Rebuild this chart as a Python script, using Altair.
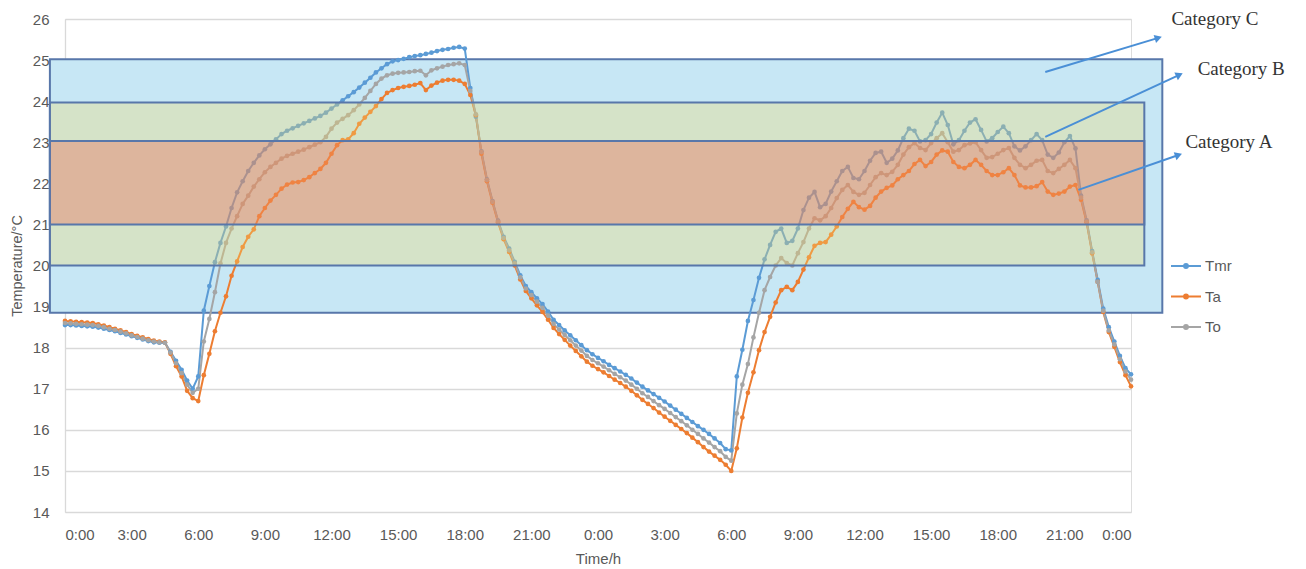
import altair as alt
import pandas as pd

# ---------------- data ----------------
series_names = ["Tmr", "Ta", "To"]
series_colors = ["#5b9bd5", "#ed7d31", "#a5a5a5"]

# 15-minute readings over two days (0 h .. 48 h)
tmr = [
    18.55, 18.55, 18.54, 18.53, 18.52, 18.51, 18.49, 18.46, 18.43, 18.40, 18.36, 18.32,
    18.28, 18.24, 18.20, 18.16, 18.13, 18.12, 18.12, 17.90, 17.68, 17.46, 17.20, 17.00,
    17.30, 18.90, 19.50, 20.08, 20.55, 20.95, 21.40, 21.78, 22.05, 22.30, 22.50, 22.68,
    22.83, 22.95, 23.07, 23.20, 23.28, 23.34, 23.40, 23.46, 23.52, 23.58, 23.64, 23.72,
    23.82, 23.92, 24.02, 24.12, 24.22, 24.33, 24.45, 24.57, 24.70, 24.80, 24.90, 24.97,
    25.00, 25.03, 25.07, 25.10, 25.12, 25.15, 25.18, 25.22, 25.25, 25.27, 25.30, 25.32,
    25.28, 24.32, 23.62, 22.78, 22.10, 21.57, 21.09, 20.70, 20.41, 20.09, 19.76, 19.50,
    19.35, 19.20, 19.06, 18.88, 18.68, 18.55, 18.42, 18.30, 18.18, 18.06, 17.94, 17.84,
    17.75, 17.67, 17.58, 17.50, 17.42, 17.34, 17.25, 17.15, 17.05, 16.96, 16.87, 16.78,
    16.69, 16.59, 16.49, 16.39, 16.29, 16.19, 16.09, 16.00, 15.90, 15.79, 15.68, 15.53,
    15.50, 17.30, 17.95, 18.65, 19.16, 19.70, 20.15, 20.50, 20.82, 20.90, 20.55, 20.60,
    20.90, 21.35, 21.65, 21.79, 21.42, 21.50, 21.80, 22.05, 22.30, 22.40, 22.13, 22.10,
    22.30, 22.55, 22.74, 22.77, 22.50, 22.60, 22.80, 23.10, 23.33, 23.28, 23.02, 23.05,
    23.20, 23.48, 23.72, 23.42, 22.95, 23.05, 23.28, 23.48, 23.56, 23.30, 23.02, 23.10,
    23.25, 23.38, 23.22, 22.90, 22.80, 22.90, 23.05, 23.20, 23.05, 22.70, 22.62, 22.75,
    23.00, 23.15, 22.85, 21.70, 21.10, 20.35, 19.65, 18.95, 18.50, 18.15, 17.80, 17.50,
    17.35,
]
ta = [
    18.65, 18.64, 18.63, 18.62, 18.61, 18.60, 18.57, 18.54, 18.50, 18.46, 18.42, 18.38,
    18.33, 18.29, 18.25, 18.21, 18.17, 18.15, 18.13, 17.85, 17.55, 17.30, 16.95, 16.77,
    16.70, 17.33, 17.85, 18.40, 18.85, 19.25, 19.75, 20.10, 20.45, 20.70, 20.88, 21.20,
    21.40, 21.58, 21.72, 21.87, 21.97, 22.02, 22.03, 22.08, 22.15, 22.25, 22.35, 22.50,
    22.72, 22.93, 23.05, 23.07, 23.22, 23.45, 23.60, 23.74, 23.88, 24.05, 24.20, 24.27,
    24.32, 24.35, 24.37, 24.40, 24.44, 24.27, 24.38, 24.45, 24.50, 24.52, 24.52, 24.50,
    24.42, 24.15, 23.66, 22.72, 22.05, 21.53, 21.05, 20.64, 20.33, 20.00, 19.66, 19.38,
    19.20, 19.03, 18.87, 18.68, 18.48, 18.33, 18.19, 18.05, 17.92, 17.79, 17.66, 17.56,
    17.48, 17.40, 17.31, 17.22, 17.14, 17.05, 16.95, 16.84, 16.73, 16.63, 16.53, 16.42,
    16.32, 16.22, 16.12, 16.02, 15.92, 15.81, 15.70, 15.58, 15.47, 15.37, 15.27, 15.15,
    15.00, 15.55, 16.30, 16.90, 17.40, 17.94, 18.38, 18.75, 19.10, 19.40, 19.48, 19.40,
    19.60, 19.90, 20.20, 20.48, 20.55, 20.57, 20.75, 20.95, 21.18, 21.38, 21.55, 21.42,
    21.36, 21.45, 21.65, 21.80, 21.89, 21.95, 22.10, 22.20, 22.30, 22.47, 22.57, 22.42,
    22.52, 22.70, 22.80, 22.77, 22.52, 22.40, 22.37, 22.45, 22.57, 22.45, 22.30, 22.20,
    22.20, 22.27, 22.37, 22.20, 21.95, 21.90, 21.90, 21.93, 22.03, 21.80, 21.72, 21.75,
    21.80, 21.92, 21.96, 21.60, 21.05, 20.30, 19.60, 18.87, 18.38, 18.02, 17.65, 17.33,
    17.06,
]
to = [
    18.60, 18.59, 18.58, 18.57, 18.56, 18.55, 18.53, 18.50, 18.46, 18.43, 18.39, 18.35,
    18.30, 18.26, 18.22, 18.18, 18.15, 18.13, 18.12, 17.88, 17.62, 17.38, 17.10, 16.90,
    17.00, 18.15, 18.70, 19.35, 20.05, 20.55, 20.90, 21.20, 21.50, 21.70, 21.92, 22.10,
    22.27, 22.40, 22.50, 22.60, 22.67, 22.72, 22.77, 22.82, 22.88, 22.94, 23.00, 23.13,
    23.33, 23.48, 23.57, 23.66, 23.78, 23.92, 24.08, 24.25, 24.42, 24.55, 24.63, 24.67,
    24.69, 24.70, 24.71, 24.73, 24.74, 24.63, 24.75, 24.80, 24.84, 24.88, 24.90, 24.92,
    24.88, 24.25, 23.68, 22.76, 22.08, 21.55, 21.07, 20.67, 20.37, 20.05, 19.71, 19.44,
    19.28, 19.12, 18.97, 18.78, 18.58, 18.44, 18.31, 18.18, 18.05, 17.93, 17.80, 17.70,
    17.62, 17.54, 17.45, 17.36, 17.28, 17.20, 17.10, 17.00, 16.89, 16.80, 16.70, 16.60,
    16.51, 16.41, 16.31, 16.21, 16.11, 16.00, 15.90, 15.79, 15.69, 15.58, 15.48, 15.34,
    15.25, 16.40, 17.10, 17.60, 18.25, 18.85, 19.40, 19.72, 20.00, 20.18, 20.06, 20.00,
    20.30, 20.57, 20.90, 21.15, 21.10, 21.20, 21.40, 21.64, 21.84, 21.96, 21.79, 21.72,
    21.77, 21.96, 22.15, 22.25, 22.20, 22.28, 22.45, 22.70, 22.88, 22.98, 22.86, 22.81,
    22.98, 23.10, 23.22, 23.00, 22.77, 22.81, 22.93, 22.97, 23.00, 22.81, 22.62, 22.64,
    22.72, 22.81, 22.86, 22.62, 22.45, 22.37, 22.45, 22.55, 22.57, 22.30, 22.25, 22.35,
    22.45, 22.57, 22.37, 21.65, 21.07, 20.32, 19.60, 18.90, 18.42, 18.08, 17.72, 17.42,
    17.22,
]
hours = [i * 0.25 for i in range(len(tmr))]

tick_hours = list(range(0, 49, 3))
y_ticks = list(range(14, 27))

# comfort category bands (hours / °C)
band_names = ["Category C", "Category B", "Category A"]
band_x1 = [-0.68, -0.68, -0.68]
band_x2 = [49.41, 48.6, 48.6]
band_y1 = [18.85, 20.0, 21.0]
band_y2 = [25.02, 23.97, 23.03]
band_fill = ["#c7e7f5", "#f3db6a", "#f05544"]

# annotation labels and arrows
ann_text = ["Category C", "Category B", "Category A"]
ann_tx = [49.82, 51.0, 50.45]
ann_ty = [25.85, 24.64, 22.86]
arr_x1 = [44.14, 44.14, 45.63]
arr_y1 = [24.71, 23.13, 21.84]
arr_x2 = [49.23, 50.18, 50.14]
arr_y2 = [25.54, 24.64, 22.69]
arr_angle = [343.5, 335.0, 340.7]

# ---------------- tables ----------------
rows = []
for name, vals in zip(series_names, [tmr, ta, to]):
    for h, v in zip(hours, vals):
        rows.append({"hour": h, "temp": v, "series": name})
df = pd.DataFrame(rows)

bands = pd.DataFrame({"name": band_names, "x1": band_x1, "x2": band_x2,
                      "y1": band_y1, "y2": band_y2, "fill": band_fill})
ann = pd.DataFrame({"label": ann_text, "tx": ann_tx, "ty": ann_ty,
                    "x1": arr_x1, "y1": arr_y1, "x2": arr_x2, "y2": arr_y2,
                    "ang": arr_angle})

FONT = "Liberation Sans"
GREY = "#595959"
BORDER = "#5877aa"

xscale = alt.Scale(domain=[0, 48], nice=False, zero=False)
yscale = alt.Scale(domain=[14, 26], nice=False, zero=False)
cscale = alt.Scale(domain=series_names, range=series_colors)

x_axis = alt.Axis(values=tick_hours, labelExpr="(datum.value % 24) + ':00'",
                  grid=False, ticks=False, domain=False, labelPadding=15,
                  labelFont=FONT, labelFontSize=15, labelColor=GREY,
                  title="Time/h", titleFont=FONT, titleFontSize=15,
                  titleColor=GREY, titleFontWeight="normal", titlePadding=9)
y_axis = alt.Axis(values=y_ticks, grid=True, gridColor="#d9d9d9", gridWidth=1.3,
                  ticks=False, domain=True, domainColor="#d9d9d9", domainWidth=1.3,
                  labelPadding=16, labelFont=FONT, labelFontSize=15, labelColor=GREY,
                  title="Temperature/°C", titleFont=FONT, titleFontSize=14.5,
                  titleColor=GREY, titleFontWeight="normal", titlePadding=8)

base_x = alt.X("hour:Q", scale=xscale, axis=x_axis)
base_y = alt.Y("temp:Q", scale=yscale, axis=y_axis)

legend_symbol = ("M-1,0H1 "
                 "M-0.13,0A0.13,0.13,0,1,0,0.13,0A0.13,0.13,0,1,0,-0.13,0Z")


def series_legend():
    return alt.Legend(
        title=None, orient="none", legendX=1105, legendY=231,
        symbolType=legend_symbol, symbolSize=900, symbolStrokeWidth=2,
        labelFont=FONT, labelFontSize=15, labelColor=GREY,
        labelOffset=3, rowPadding=6.5, padding=0)


band_c = alt.Chart(bands).transform_filter(alt.datum.name == "Category C").mark_rect(
    stroke=BORDER, strokeWidth=2
).encode(
    x=alt.X("x1:Q", scale=xscale), x2="x2:Q",
    y=alt.Y("y1:Q", scale=yscale), y2="y2:Q",
    fill=alt.value(band_fill[0]),
)

lines = alt.Chart(df).mark_line(strokeWidth=2).encode(
    x=base_x, y=base_y,
    color=alt.Color("series:N", scale=cscale, legend=series_legend()),
)

points = alt.Chart(df).mark_circle(size=22, opacity=1).encode(
    x=base_x, y=base_y,
    color=alt.Color("series:N", scale=cscale, legend=series_legend()),
)

band_ab = alt.Chart(bands).transform_filter(alt.datum.name != "Category C").mark_rect(
    stroke=BORDER, strokeWidth=2, fillOpacity=0.32, strokeOpacity=1
).encode(
    x=alt.X("x1:Q", scale=xscale), x2="x2:Q",
    y=alt.Y("y1:Q", scale=yscale), y2="y2:Q",
    fill=alt.Fill("fill:N", scale=None),
)

arrows = alt.Chart(ann).mark_rule(color="#4a8fd6", strokeWidth=2).encode(
    x=alt.X("x1:Q", scale=xscale), y=alt.Y("y1:Q", scale=yscale),
    x2="x2:Q", y2="y2:Q",
)
heads = alt.Chart(ann).mark_point(shape="triangle-right", filled=True,
                                  color="#4a8fd6", size=70, opacity=1).encode(
    x=alt.X("x2:Q", scale=xscale), y=alt.Y("y2:Q", scale=yscale),
    angle=alt.Angle("ang:Q", scale=None),
)
labels = alt.Chart(ann).mark_text(font="Liberation Serif", fontSize=19,
                                  align="left", baseline="alphabetic",
                                  color="#333333").encode(
    x=alt.X("tx:Q", scale=xscale), y=alt.Y("ty:Q", scale=yscale),
    text="label:N",
)

chart = alt.layer(band_c, lines, points, band_ab, arrows, heads, labels).properties(
    width=1066, height=493,
    autosize=alt.AutoSizeParams(type="none"),
    padding={"left": 57, "top": 11, "right": 167, "bottom": 57},
).configure_view(stroke=None).configure(background="white")

chart.save("out.html", embed_options={"renderer": "svg", "actions": False})
